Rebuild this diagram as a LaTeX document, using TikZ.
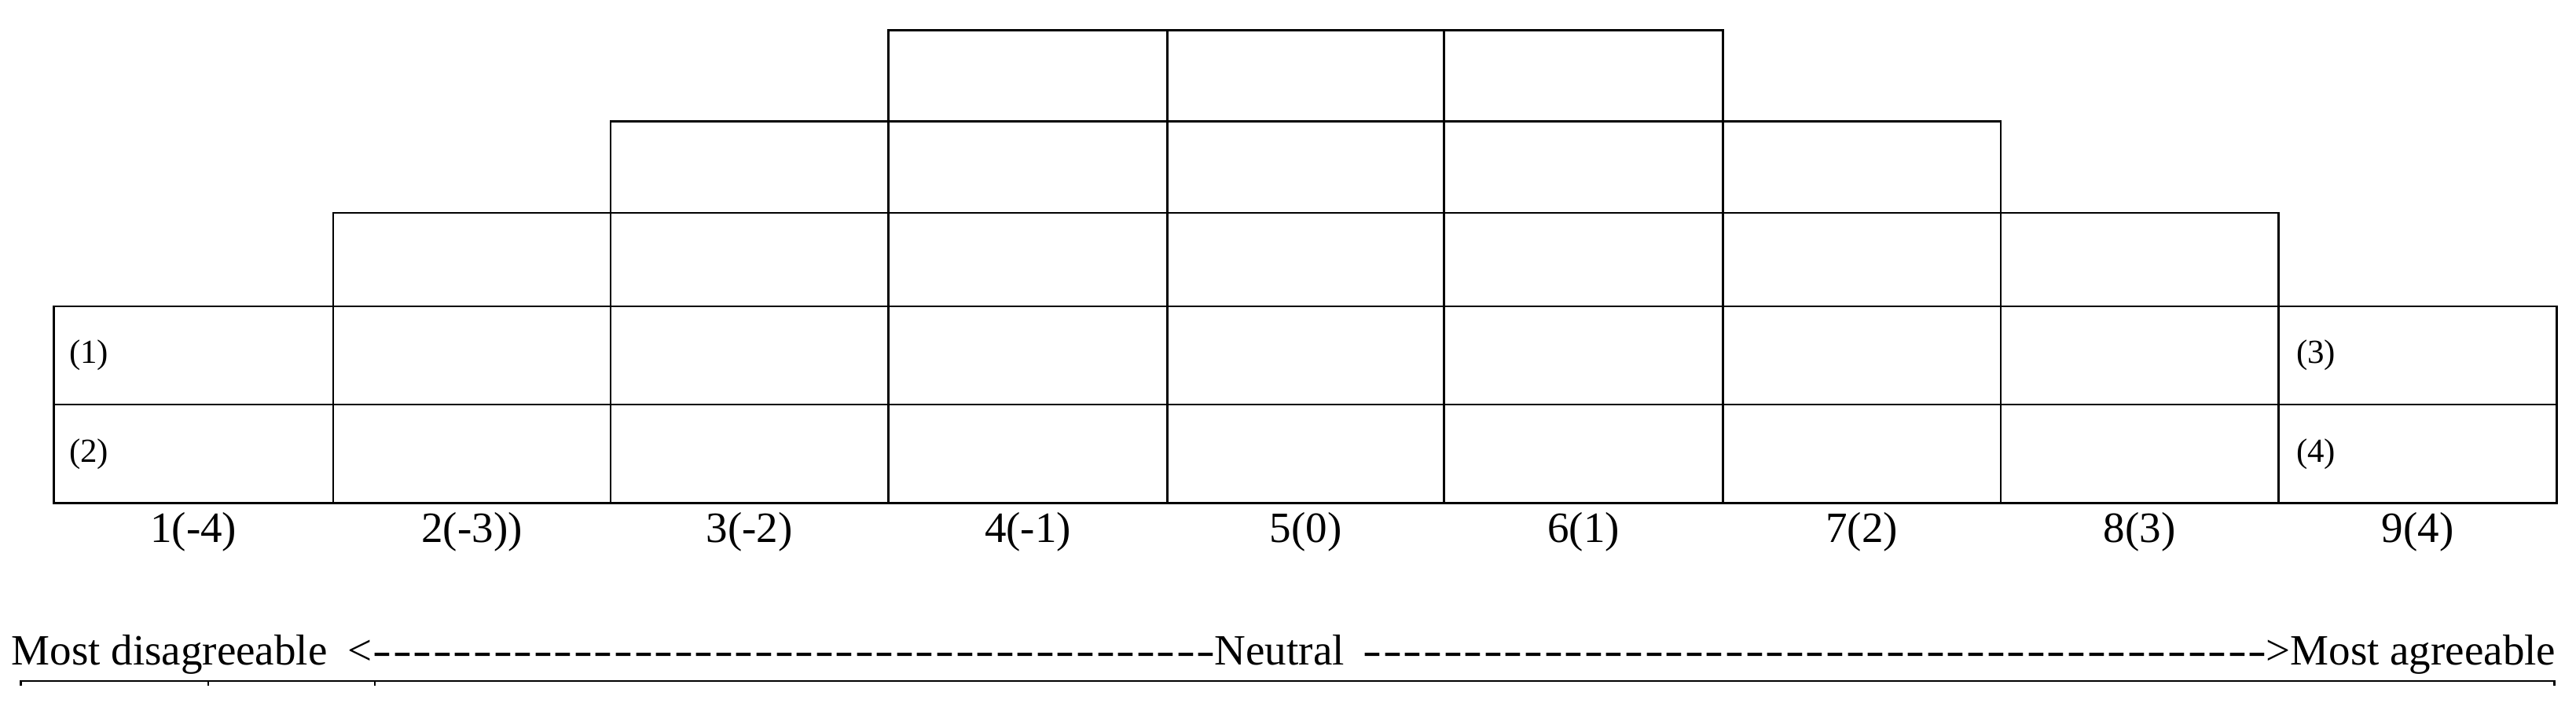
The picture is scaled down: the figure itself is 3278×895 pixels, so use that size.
\documentclass[tikz,border=0pt]{standalone}
\usepackage{fontspec}
\setmainfont{Liberation Serif}
\usepackage{graphicx}
\newlength\pxu
\setlength\pxu{0.01cm}
\newcommand\hyph{\hbox to 25.5\pxu{\hss\scalebox{1.3}[1]{-}\hss}}
\newcommand\dashrun[1]{\hbox to #1\pxu{\xleaders\hyph\hfill}}
\begin{document}
\begin{tikzpicture}[x=0.01cm,y=-0.01cm,
  cell/.style={draw, line width=0.75pt, rectangle, inner sep=0pt, outer sep=0pt},
  cl/.style={inner sep=0pt, font=\fontsize{12.2}{14}\selectfont, anchor=west},
  lab/.style={inner sep=0pt, font=\fontsize{15.65}{18}\selectfont, anchor=base},
  bt/.style={inner sep=0pt, font=\fontsize{15.65}{18}\selectfont},
  rule/.style={line width=0.85pt},
  tick/.style={line width=0.5pt}]
\useasboundingbox (0,0) rectangle (3278,895);
% grid of cells
\foreach \c/\xl/\xr/\t in {1/68.5/424/3, 2/424/777/2, 3/777/1130.5/1, 4/1130.5/1485.5/0, 5/1485.5/1837.5/0, 6/1837.5/2192.5/0, 7/2192.5/2546/1, 8/2546/2899.5/2, 9/2899.5/3253.5/3}{
  \foreach \r/\yt/\yb in {0/38.3/154.5, 1/154.5/271, 2/271/390, 3/390/515, 4/515/640.5}{
    \ifnum\r<\t\relax\else
      \node[cell, minimum width={(\xr-\xl)*0.01cm}, minimum height={(\yb-\yt)*0.01cm}] (c\c-\r) at ({(\xl+\xr)/2},{(\yt+\yb)/2}) {};
    \fi
  }
}
% cell labels
\node[cl] (t1) at ([xshift=0.19cm]c1-3.west) {(1)};
\node[cl] (t2) at ([xshift=0.19cm]c1-4.west) {(2)};
\node[cl] (t3) at ([xshift=0.22cm]c9-3.west) {(3)};
\node[cl] (t4) at ([xshift=0.22cm]c9-4.west) {(4)};
% column labels
\node[lab] (l1) at (246.25,690.7) {1(-4)};
\node[lab] (l2) at (600.5,690.7) {2(-3))};
\node[lab] (l3) at (953.75,690.7) {3(-2)};
\node[lab] (l4) at (1308,690.7) {4(-1)};
\node[lab] (l5) at (1661.5,690.7) {5(0)};
\node[lab] (l6) at (2015,690.7) {6(1)};
\node[lab] (l7) at (2369.25,690.7) {7(2)};
\node[lab] (l8) at (2722.75,690.7) {8(3)};
\node[lab] (l9) at (3076.5,690.7) {9(4)};
% scale text
\node[bt, anchor=base west] (md) at (14,847) {Most disagreeable};
\node[bt, anchor=base east] (lt) at (474,847) {<};
\node[bt, anchor=base west] (d1) at (473,847) {\dashrun{1074}};
\node[bt, anchor=base west] (nt) at (1545,847) {Neutral};
\node[bt, anchor=base west] (d2) at (1733,847) {\dashrun{1152}};
\node[bt, anchor=base west] (gt) at (2883,847) {>};
\node[bt, anchor=base east] (ma) at (3253,847) {Most agreeable};
% bottom rule
\coordinate (r0) at (26.7,867);
\coordinate (r1) at (265.2,867);
\coordinate (r2) at (477,867);
\coordinate (r3) at (3250.5,867);
\draw[rule] (r0) ++(0,6) -- (r0) -- (r3) -- ++(0,6);
\draw[tick] (r1) -- ++(0,6);
\draw[tick] (r2) -- ++(0,6);
\end{tikzpicture}
\end{document}
